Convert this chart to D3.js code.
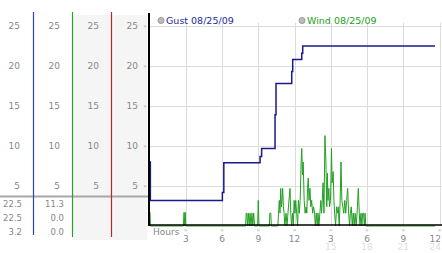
<!DOCTYPE html>
<html>
<head>
<meta charset="utf-8">
<script src="https://cdn.jsdelivr.net/npm/d3@7"></script>
<style>
  body { margin: 0; background: #fff; }
  text { font-family: "DejaVu Sans", Verdana, sans-serif; font-size: 9px; }
</style>
</head>
<body>
<script>
// y axis ticks (mph) used on every column and on the plot
var yTicks = [5, 10, 15, 20, 25];
// x axis: hours since start, two rows of labels
var hourTicks = [3, 6, 9, 12, 15, 18, 21, 24];
var hourLabels = ['3', '6', '9', '12', '3', '6', '9', '12'];
var hourLabels2 = ['', '', '', '', '15', '18', '21', '24'];

// gust, step line
var gustTime  = [0, 0.07, 6.03, 6.15, 9.15, 9.28, 10.39, 10.47, 11.77, 11.85, 12.6, 12.68, 23.63];
var gustSpeed = [8.0, 3.2, 4.2, 7.9, 8.7, 9.7, 13.9, 17.8, 19.3, 20.8, 21.6, 22.5, 22.5];

// wind
var windTime = [0, 0.03, 0.08, 2.80, 2.86, 2.92, 2.96, 3.0, 7.95, 8.0, 8.06, 8.1, 8.18, 8.25, 8.32, 8.4,
  8.48, 8.55, 8.62, 8.7, 8.95, 9.0, 9.06, 9.92, 9.96, 10.04, 10.08, 10.62, 10.68, 10.74, 10.8, 10.86,
  10.92, 10.97, 11.02, 11.08, 11.14, 11.2, 11.3, 11.38, 11.46, 11.54, 11.63, 11.69, 11.76, 11.84, 11.9,
  11.97, 12.04, 12.1, 12.18, 12.26, 12.32, 12.4, 12.47, 12.55, 12.6, 12.66, 12.72, 12.8, 12.88, 12.96,
  13.02, 13.08, 13.14, 13.2, 13.28, 13.35, 13.42, 13.5, 13.58, 13.66, 13.72, 13.8, 13.88, 13.95, 14.02,
  14.1, 14.18, 14.24, 14.3, 14.36, 14.44, 14.52, 14.6, 14.67, 14.72, 14.77, 14.84, 14.9, 14.98, 15.06,
  15.12, 15.2, 15.26, 15.32, 15.4, 15.48, 15.56, 15.62, 15.7, 15.78, 15.85, 15.92, 16.0, 16.08, 16.16,
  16.24, 16.32, 16.4, 16.48, 16.56, 16.62, 16.7, 16.78, 16.86, 16.94, 17.02, 17.1, 17.18, 17.28, 17.36,
  17.42, 17.5, 17.58, 17.64, 17.72, 17.78, 17.84, 17.9, 23.63];
var windSpeed = [0, 1.7, 0, 0, 1.7, 0, 1.7, 0, 0, 1.6, 1.6, 0, 1.6, 0, 1.6, 0,
  1.6, 0, 1.6, 0, 0, 3.2, 0, 0, 1.6, 1.6, 0, 0, 1.6, 3.2, 1.6, 4.7,
  2.4, 3.2, 4.7, 2.4, 1.6, 0, 1.6, 0, 1.6, 3.2, 4.7, 1.6, 0, 1.6, 0,
  3.2, 1.6, 3.2, 1.6, 0, 3.2, 1.6, 3.2, 8.0, 9.7, 6.4, 8.0, 3.2, 1.6, 2.4,
  1.6, 4.7, 6.0, 3.2, 4.7, 2.4, 3.2, 1.6, 2.4, 1.6, 0, 1.6, 0, 1.6, 0,
  1.6, 3.2, 1.6, 3.2, 5.4, 1.6, 11.3, 8.0, 2.4, 6.6, 3.2, 4.7, 2.4, 3.2, 9.7,
  5.4, 6.8, 3.2, 1.6, 0, 2.4, 1.6, 2.4, 0, 3.2, 8.0, 3.2, 2.4, 1.6, 3.2,
  1.6, 3.2, 4.7, 1.6, 0, 1.6, 2.4, 0, 1.6, 0, 1.6, 0, 1.6, 4.7, 1.6,
  0, 1.6, 0, 1.6, 1.6, 0, 1.6, 0, 0];

// summary rows under the columns
var gustSummary = ['22.5', '22.5', '3.2'];
var windSummary = ['11.3', '0.0', '0.0'];

var legendNames = ['Gust 08/25/09', 'Wind 08/25/09'];

var w = 442, h = 253;
var svg = d3.select('body').append('svg')
    .attr('width', w)
    .attr('height', h);

var x = d3.scaleLinear().domain([0, 24]).range([149.5, 439.5]);
var y = d3.scaleLinear().domain([0, 25]).range([226, 26]);

// light grey column backgrounds
svg.append('rect').attr('x', 72).attr('y', 15).attr('width', 75).attr('height', 225).attr('fill', '#f5f5f5');

// column labels (one axis per column)
var colRight = [20, 60, 99, 138];
colRight.forEach(function(cx, i){
    var g = svg.append('g')
        .attr('transform', 'translate(' + cx + ',0)')
        .call(d3.axisLeft(y).tickValues(yTicks).tickSize(0).tickPadding(0));
    g.select('.domain').remove();
    g.selectAll('text').attr('fill', '#888').style('font-size', '9px').attr('font-family', 'DejaVu Sans');
});

// divider
svg.append('line').attr('x1', 0).attr('x2', 149).attr('y1', 196.5).attr('y2', 196.5)
    .attr('stroke', '#a8a8a8').attr('stroke-width', 2);

// column lines
var colLines = [{x: 33.5, c: '#2448b4', y2: 235}, {x: 72.5, c: '#2aa02a', y2: 237}, {x: 111.5, c: '#b82828', y2: 237}];
svg.selectAll('line.col')
    .data(colLines)
    .enter()
    .append('line')
    .attr('class', 'col')
    .attr('x1', function(d){ return d.x; })
    .attr('x2', function(d){ return d.x; })
    .attr('y1', 12)
    .attr('y2', function(d){ return d.y2; })
    .attr('stroke', function(d){ return d.c; })
    .attr('stroke-width', 1.2);

// summary values
var rowY = [204.5, 218.5, 232.5];
svg.selectAll('text.gs')
    .data(gustSummary)
    .enter()
    .append('text')
    .attr('class', 'gs')
    .attr('x', 22)
    .attr('y', function(d, i){ return rowY[i]; })
    .attr('dy', '0.35em')
    .attr('text-anchor', 'end')
    .attr('fill', '#888')
    .style('font-size', '8.5px')
    .text(function(d){ return d; });
svg.selectAll('text.ws')
    .data(windSummary)
    .enter()
    .append('text')
    .attr('class', 'ws')
    .attr('x', 64)
    .attr('y', function(d, i){ return rowY[i]; })
    .attr('dy', '0.35em')
    .attr('text-anchor', 'end')
    .attr('fill', '#888')
    .style('font-size', '8.5px')
    .text(function(d){ return d; });

// plot area
svg.append('rect').attr('x', 150).attr('y', 10).attr('width', 292).attr('height', 216).attr('fill', '#fff');

// grid
svg.selectAll('line.hg')
    .data(yTicks)
    .enter()
    .append('line')
    .attr('class', 'hg')
    .attr('x1', 149).attr('x2', 442)
    .attr('y1', function(d){ return Math.round(y(d)) + 0.5; })
    .attr('y2', function(d){ return Math.round(y(d)) + 0.5; })
    .attr('stroke', '#dcdcdc');
svg.selectAll('line.vg')
    .data(hourTicks)
    .enter()
    .append('line')
    .attr('class', 'vg')
    .attr('x1', function(d){ return Math.round(x(d)) + 0.5; })
    .attr('x2', function(d){ return Math.round(x(d)) + 0.5; })
    .attr('y1', y(25.4)).attr('y2', y(0))
    .attr('stroke', '#dcdcdc');

// y tick marks
svg.selectAll('text.ym')
    .data(yTicks)
    .enter()
    .append('text')
    .attr('class', 'ym')
    .attr('x', 145)
    .attr('y', function(d){ return y(d); })
    .attr('dy', '0.35em')
    .attr('text-anchor', 'middle')
    .attr('fill', '#999')
    .style('font-size', '6px')
    .text('\u00bb');

// wind line
var windLine = d3.line()
    .x(function(d){ return x(d[0]); })
    .y(function(d){ return y(d[1]); });
svg.append('path')
    .datum(d3.zip(windTime, windSpeed))
    .attr('d', windLine)
    .attr('fill', 'none')
    .attr('stroke', '#22a022')
    .attr('stroke-width', 1);

// gust line
var gustLine = d3.line()
    .curve(d3.curveStepAfter)
    .x(function(d){ return x(d[0]); })
    .y(function(d){ return y(d[1]); });
svg.append('path')
    .datum(d3.zip(gustTime, gustSpeed))
    .attr('d', gustLine)
    .attr('fill', 'none')
    .attr('stroke', '#1a1a8a')
    .attr('stroke-width', 1.5);

// axes lines
svg.append('line').attr('x1', 149).attr('x2', 149).attr('y1', 13).attr('y2', 226)
    .attr('stroke', '#000').attr('stroke-width', 2);
svg.append('line').attr('x1', 148).attr('x2', 442).attr('y1', 225).attr('y2', 225)
    .attr('stroke', '#000').attr('stroke-width', 1.5);

// x axis labels
svg.append('text').attr('x', 153).attr('y', 231.5).attr('dy', '0.35em')
    .attr('fill', '#888').text('Hours');
svg.selectAll('text.xm')
    .data(hourTicks)
    .enter()
    .append('text')
    .attr('class', 'xm')
    .attr('x', function(d){ return x(d); })
    .attr('y', 230)
    .attr('dy', '0.35em')
    .attr('text-anchor', 'middle')
    .attr('fill', '#999')
    .style('font-size', '6px')
    .text('\u00bb');
svg.selectAll('text.xl')
    .data(hourTicks)
    .enter()
    .append('text')
    .attr('class', 'xl')
    .attr('x', function(d, i){ return i == hourTicks.length - 1 ? 441 : x(d); })
    .attr('y', 238.5)
    .attr('dy', '0.35em')
    .attr('text-anchor', function(d, i){ return i == hourTicks.length - 1 ? 'end' : 'middle'; })
    .attr('fill', '#888')
    .text(function(d, i){ return hourLabels[i]; });
svg.selectAll('text.xl2')
    .data(hourTicks)
    .enter()
    .append('text')
    .attr('class', 'xl2')
    .attr('x', function(d, i){ return i == hourTicks.length - 1 ? 441 : x(d); })
    .attr('y', 247)
    .attr('dy', '0.35em')
    .attr('text-anchor', function(d, i){ return i == hourTicks.length - 1 ? 'end' : 'middle'; })
    .attr('fill', '#dedede')
    .text(function(d, i){ return hourLabels2[i]; });

// legend
var legendX = [161, 302];
var legendColor = ['#1a2a9a', '#22a022'];
legendNames.forEach(function(name, i){
    svg.append('circle').attr('cx', legendX[i]).attr('cy', 20.5).attr('r', 3)
        .attr('fill', '#bbb').attr('stroke', '#999');
    svg.append('text').attr('x', legendX[i] + 5).attr('y', 20.5).attr('dy', '0.35em')
        .attr('fill', legendColor[i]).style('font-size', '9.5px').text(name);
});
</script>
</body>
</html>
